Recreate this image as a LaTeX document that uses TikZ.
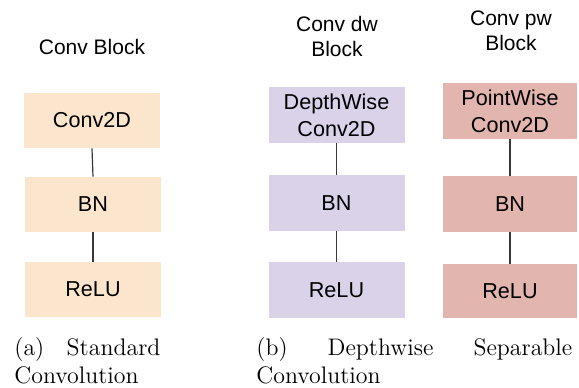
\documentclass[tikz,border=0pt]{standalone}
\usepackage{fontspec}
\newfontfamily\boxfont{Liberation Sans}
\definecolor{stdfill}{HTML}{FCE5CD}
\definecolor{dwfill}{HTML}{D9D2E9}
\definecolor{pwfill}{HTML}{E2B5AE}
\definecolor{linkgray}{HTML}{383838}
\tikzset{
  layer/.style={inner sep=0pt, minimum width=68pt, minimum height=27.5pt,
    align=center, font=\boxfont\fontsize{10.8}{13.5}\selectfont},
  title/.style={inner sep=0pt, align=center, font=\boxfont\fontsize{10.5}{12.5}\selectfont},
  caption/.style={inner sep=0pt, anchor=base west, font=\fontsize{11.95}{14.5}\selectfont},
  link/.style={draw=linkgray, line width=0.6pt}
}
\begin{document}
\begin{tikzpicture}[x=0.5pt, y=-0.5pt]
  \useasboundingbox (0,0) rectangle (579,387);

  % (a) standard convolution block
  \node[title] (ta) at (92,47) {Conv Block};
  \node[layer, fill=stdfill] (a1) at (92,120.5) {Conv2D};
  \node[layer, fill=stdfill] (a2) at (93,204.5) {BN};
  \node[layer, fill=stdfill] (a3) at (93,289.5) {ReLU};
  \draw[link] (a1.south) -- (a2.north);
  \draw[link] (a2.south) -- (a3.north);

  % (b) depthwise part
  \node[title] (tb) at (337,36.5) {Conv dw\\Block};
  \node[layer, fill=dwfill, minimum height=28pt] (b1) at (336.5,115) {DepthWise\\Conv2D};
  \node[layer, fill=dwfill, minimum height=28pt] (b2) at (336.5,203) {BN};
  \node[layer, fill=dwfill, minimum height=28pt] (b3) at (336.5,290) {ReLU};
  \draw[link] (b1.south) -- (b2.north);
  \draw[link] (b2.south) -- (b3.north);

  % (b) pointwise part
  \node[title] (tc) at (511,30.5) {Conv pw\\Block};
  \node[layer, fill=pwfill, minimum width=67pt, minimum height=28pt] (c1) at (510,111) {PointWise\\Conv2D};
  \node[layer, fill=pwfill, minimum width=67pt, minimum height=28pt] (c2) at (510,204) {BN};
  \node[layer, fill=pwfill, minimum width=67pt, minimum height=27pt] (c3) at (510,291) {ReLU};
  \draw[link] (c1.south) -- (c2.north);
  \draw[link] (c2.south) -- (c3.north);

  % sub-captions
  \node[caption] (capa1) at (14,355) {\makebox[73pt][s]{(a) Standard}};
  \node[caption] (capa2) at (14,383) {Convolution};
  \node[caption] (capb1) at (256,355) {\makebox[158pt][s]{(b) Depthwise Separable}};
  \node[caption] (capb2) at (256,383) {Convolution};
\end{tikzpicture}
\end{document}
